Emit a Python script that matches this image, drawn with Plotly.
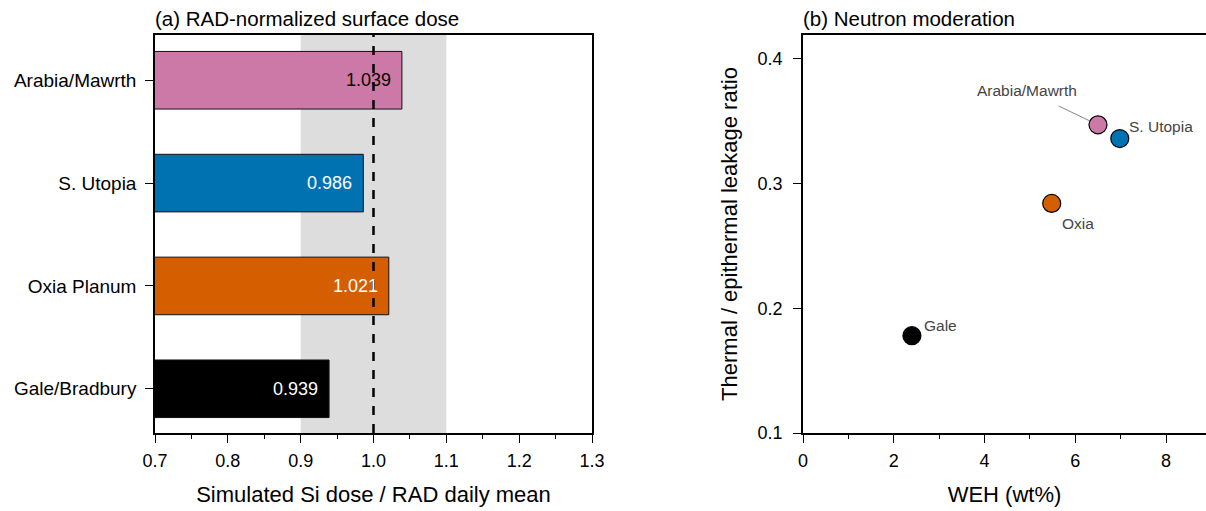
import plotly.graph_objects as go

# ---- data ----
sites = ["Gale/Bradbury", "Oxia Planum", "S. Utopia", "Arabia/Mawrth"]
dose_ratio = [0.939, 1.021, 0.986, 1.039]
bar_colors = ["#000000", "#D55E00", "#0072B2", "#CC79A7"]
bar_text_colors = ["white", "white", "white", "black"]

pt_labels = ["Gale", "Oxia", "S. Utopia", "Arabia/Mawrth"]
weh = [2.4, 5.48, 6.98, 6.5]
leak_ratio = [0.178, 0.284, 0.336, 0.347]
pt_colors = ["#000000", "#D55E00", "#0072B2", "#CC79A7"]

band = [0.9, 1.1]
ref_line = 1.0

W, H = 1206, 511
FONT = "Liberation Sans, Arial, Helvetica, sans-serif"

fig = go.Figure()

fig.add_trace(go.Bar(
    y=sites, x=dose_ratio, orientation="h", base=0,
    marker=dict(color=bar_colors, line=dict(color="#111111", width=1)),
    width=0.56,
    xaxis="x", yaxis="y", showlegend=False, cliponaxis=True,
))

fig.add_trace(go.Scatter(
    x=weh, y=leak_ratio, mode="markers",
    marker=dict(size=18, color=pt_colors, line=dict(color="#000000", width=1.2)),
    xaxis="x2", yaxis="y2", showlegend=False,
))

shapes = [
    dict(type="rect", xref="x", yref="paper", x0=band[0], x1=band[1], y0=0, y1=1,
         fillcolor="#dddddd", line=dict(width=0), layer="below"),
    dict(type="line", xref="x", yref="paper", x0=ref_line, x1=ref_line, y0=0, y1=1,
         line=dict(color="black", width=2.5, dash="dash"), layer="above"),
]

ann_font = dict(size=15.5, color="#444444", family=FONT)
annotations = [
    dict(text="(a) RAD-normalized surface dose", xref="paper", yref="paper",
         x=153 / W, y=1, xanchor="left", yanchor="bottom", yshift=3,
         showarrow=False, font=dict(size=20.5, color="black", family=FONT)),
    dict(text="(b) Neutron moderation", xref="paper", yref="paper",
         x=801 / W, y=1, xanchor="left", yanchor="bottom", yshift=3,
         showarrow=False, font=dict(size=20.5, color="black", family=FONT)),
    dict(text="Gale", xref="x2", yref="y2", x=weh[0], y=leak_ratio[0],
         xanchor="left", yanchor="middle", xshift=10, yshift=10, showarrow=False, font=ann_font),
    dict(text="Oxia", xref="x2", yref="y2", x=weh[1], y=leak_ratio[1],
         xanchor="left", yanchor="middle", xshift=8, yshift=-20, showarrow=False, font=ann_font),
    dict(text="S. Utopia", xref="x2", yref="y2", x=weh[2], y=leak_ratio[2],
         xanchor="left", yanchor="middle", xshift=7, yshift=12, showarrow=False, font=ann_font),
    dict(text="Arabia/Mawrth", xref="x2", yref="y2", x=weh[3], y=leak_ratio[3],
         ax=-71, ay=-34, axref="pixel", ayref="pixel",
         showarrow=True, arrowhead=0, arrowwidth=0.8, arrowcolor="#666666",
         standoff=9, startstandoff=12, font=ann_font),
]

# value labels inside bar ends
for s, v, c in zip(sites, dose_ratio, bar_text_colors):
    annotations.append(dict(text=f"{v:.3f}", xref="x", yref="y", x=v, y=s,
                            xanchor="right", yanchor="middle", xshift=-9, showarrow=False,
                            font=dict(size=18, color=c, family=FONT)))

axis_common = dict(showline=True, linecolor="black", linewidth=1.5, ticks="outside",
                   tickcolor="black", ticklen=8, tickwidth=1.3, showgrid=False, zeroline=False,
                   automargin=False)
tick18 = dict(size=18, color="black", family=FONT)

fig.update_layout(
    width=W, height=H,
    margin=dict(l=0, r=0, t=35, b=78, pad=0, autoexpand=False),
    paper_bgcolor="white", plot_bgcolor="rgba(0,0,0,0)",
    font=dict(family=FONT, color="black"),
    shapes=shapes, annotations=annotations,
    xaxis=dict(domain=[155 / W, 592 / W], range=[0.7, 1.3], tickvals=[0.7, 0.8, 0.9, 1.0, 1.1, 1.2, 1.3],
               ticktext=["0.7", "0.8", "0.9", "1.0", "1.1", "1.2", "1.3"], mirror=True,
               minor=dict(dtick=0.05, tick0=0.7, ticks="outside", ticklen=4, tickcolor="black"),
               title=dict(text="Simulated Si dose / RAD daily mean", font=dict(size=22, family=FONT), standoff=16),
               anchor="y", tickfont=tick18, ticklabelstandoff=3, **axis_common),
    yaxis=dict(domain=[0, 1], range=[-0.43, 3.44], mirror=True, anchor="x", ticklabelstandoff=5,
               tickfont=dict(size=19, color="black", family=FONT), **axis_common),
    xaxis2=dict(domain=[803 / W, 1.0], range=[0, 8.88], tickvals=[0, 2, 4, 6, 8], mirror=True,
                minor=dict(dtick=1, tick0=0, ticks="outside", ticklen=4, tickcolor="black"),
                title=dict(text="WEH (wt%)", font=dict(size=22, family=FONT), standoff=16),
                anchor="y2", tickfont=tick18, ticklabelstandoff=3, **axis_common),
    yaxis2=dict(domain=[0, 1], range=[0.1, 0.419], tickvals=[0.1, 0.2, 0.3, 0.4],
                title=dict(text="Thermal / epithermal leakage ratio", font=dict(size=22, family=FONT), standoff=14),
                anchor="x2", tickfont=tick18, ticklabelstandoff=7, **axis_common),
)

fig.write_html("out.html")
